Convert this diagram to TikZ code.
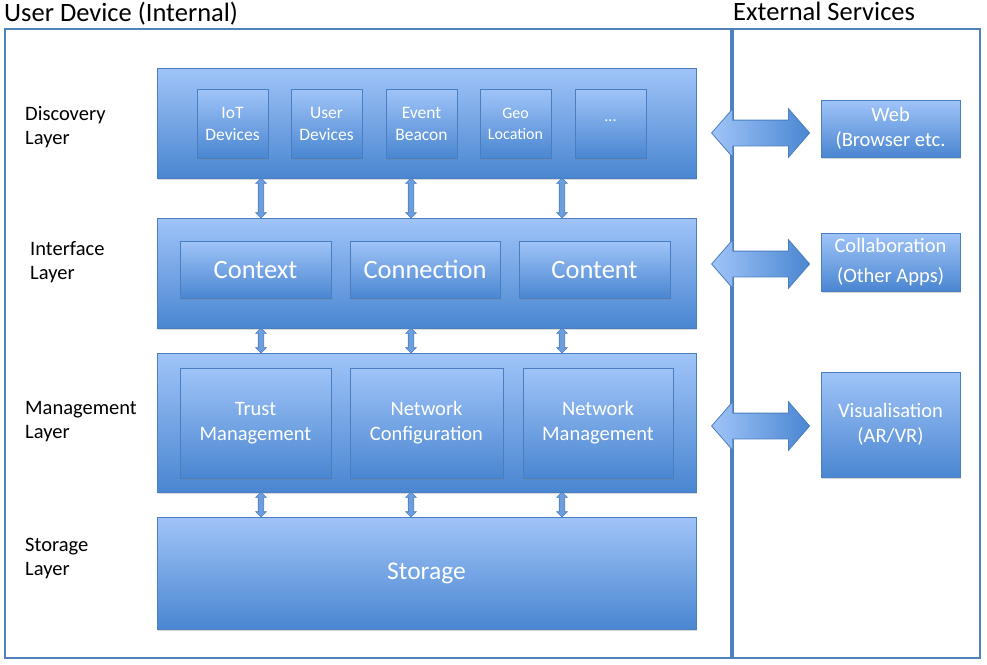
\documentclass[tikz,border=0pt]{standalone}
\usepackage{fontspec}
\setmainfont{Carlito}
\usetikzlibrary{shapes.arrows,calc,shadows}
\definecolor{btop}{HTML}{A0C4F8}
\definecolor{bbot}{HTML}{4A86D1}
\definecolor{bdraw}{HTML}{4A7EC0}
\definecolor{framec}{HTML}{4F81BD}
\definecolor{arrfill}{HTML}{6C9DDD}
\tikzset{
  gbox/.style={draw=bdraw, line width=0.8pt, top color=btop, bottom color=bbot,
    text=white, align=center, inner sep=0pt,
    drop shadow={shadow xshift=1pt, shadow yshift=-1.5pt, opacity=0.3}},
  framebox/.style={draw=framec, line width=1.4pt, inner sep=0pt},
  varrow/.style={double arrow, shape border rotate=90, draw=bdraw, line width=0.6pt,
    fill=arrfill, inner sep=2.5pt, double arrow head extend=2.5pt,
    double arrow tip angle=90},
  harrow/.style={double arrow, draw=bdraw, line width=0.8pt, left color=btop, right color=bbot,
    inner xsep=0pt, inner ysep=12.5pt, double arrow head extend=11.5pt,
    double arrow tip angle=98, minimum height=98pt},
  laylabel/.style={anchor=west, align=left, font=\fontsize{20.5}{24}\selectfont, inner sep=0pt},
  smalltxt/.style={font=\fontsize{17.5}{22}\selectfont},
  midtxt/.style={font=\fontsize{20.5}{25}\selectfont},
  bigtxt/.style={font=\fontsize{26.5}{30}\selectfont},
}
\begin{document}
\begin{tikzpicture}[x=1pt,y=-1pt]
\useasboundingbox (0,0) rectangle (987,664);
% frames
\node[framebox, minimum width=726pt, minimum height=629pt] (internal) at (368,343.5) {};
\node[framebox, minimum width=247pt, minimum height=629pt] (external) at (856.5,343.5) {};
\node[anchor=west, inner sep=0pt, font=\fontsize{26.5}{30}\selectfont] (t1) at (4,14) {User Device (Internal)};
\node[anchor=west, inner sep=0pt, font=\fontsize{26.5}{30}\selectfont] (t2) at (733,11) {External Services};
% layer labels
\node[laylabel] (l1) at (25,127) {Discovery\\Layer};
\node[laylabel] (l2) at (30,262) {Interface\\Layer};
\node[laylabel] (l3) at (25,422) {Management\\Layer};
\node[laylabel] (l4) at (25,558) {Storage\\Layer};
% discovery
\node[gbox, minimum width=539pt, minimum height=110pt] (disc) at (426.5,123) {};
\node[gbox, smalltxt, minimum width=71pt, minimum height=69pt] (iot) at (232.5,123.5) {IoT\\Devices};
\node[gbox, smalltxt, minimum width=71pt, minimum height=69pt] (udev) at (326.5,123.5) {User\\Devices};
\node[gbox, smalltxt, minimum width=71pt, minimum height=69pt] (evb) at (421.5,123.5) {Event\\Beacon};
\node[gbox, font=\fontsize{16}{21}\selectfont, minimum width=71pt, minimum height=69pt] (geo) at (515.5,123.5) {Geo\\Location};
\node[gbox, font=\fontsize{16}{21}\selectfont, minimum width=71pt, minimum height=69pt] (dots) at (610.5,123.5) {\raisebox{5pt}{...}};
% interface
\node[gbox, minimum width=539pt, minimum height=110pt] (intf) at (426.5,273) {};
\node[gbox, bigtxt, minimum width=151pt, minimum height=57pt] (ctx) at (255.5,269.5) {Context};
\node[gbox, bigtxt, minimum width=150pt, minimum height=57pt] (conn) at (425,269.5) {Connection};
\node[gbox, bigtxt, minimum width=151pt, minimum height=57pt] (cont) at (594.5,269.5) {Content};
% management
\node[gbox, minimum width=539pt, minimum height=139pt] (mgmt) at (426.5,422.5) {};
\node[gbox, midtxt, minimum width=151pt, minimum height=110pt] (trust) at (255.5,423) {Trust\\Management};
\node[gbox, midtxt, minimum width=153pt, minimum height=110pt] (ncfg) at (426.5,423) {Network\\Configuration};
\node[gbox, midtxt, minimum width=150pt, minimum height=110pt] (nmgmt) at (598,423) {Network\\Management};
% storage
\node[gbox, font=\fontsize{25.5}{30}\selectfont, minimum width=539pt, minimum height=112pt] (stor) at (426.5,573) {Storage};
% vertical arrows
\foreach \dx/\n in {-165.5/a, -15.5/b, 135.5/c}{
  \node[varrow, minimum height=40pt] (v1\n) at ($(disc.south)!0.5!(intf.north)+(\dx,0)$) {};
  \node[varrow, minimum height=25pt] (v2\n) at ($(intf.south)!0.5!(mgmt.north)+(\dx,0)$) {};
  \node[varrow, minimum height=25pt] (v3\n) at ($(mgmt.south)!0.5!(stor.north)+(\dx,0)$) {};
}
% external services
\node[gbox, midtxt, minimum width=139pt, minimum height=57pt] (web) at (890.5,128.5) {Web\\(Browser etc.};
\node[gbox, font=\fontsize{20.5}{30}\selectfont, minimum width=139pt, minimum height=58pt] (collab) at (890.5,262) {Collaboration\\(Other Apps)};
\node[gbox, midtxt, minimum width=139pt, minimum height=105pt] (vis) at (890.5,424.5) {Visualisation\\(AR/VR)};
% horizontal arrows
\node[harrow] (h1) at ($(web.west)+(-60,4.5)$) {};
\node[harrow] (h2) at ($(collab.west)+(-60,2)$) {};
\node[harrow] (h3) at ($(vis.west)+(-60,1.5)$) {};
\end{tikzpicture}
\end{document}
